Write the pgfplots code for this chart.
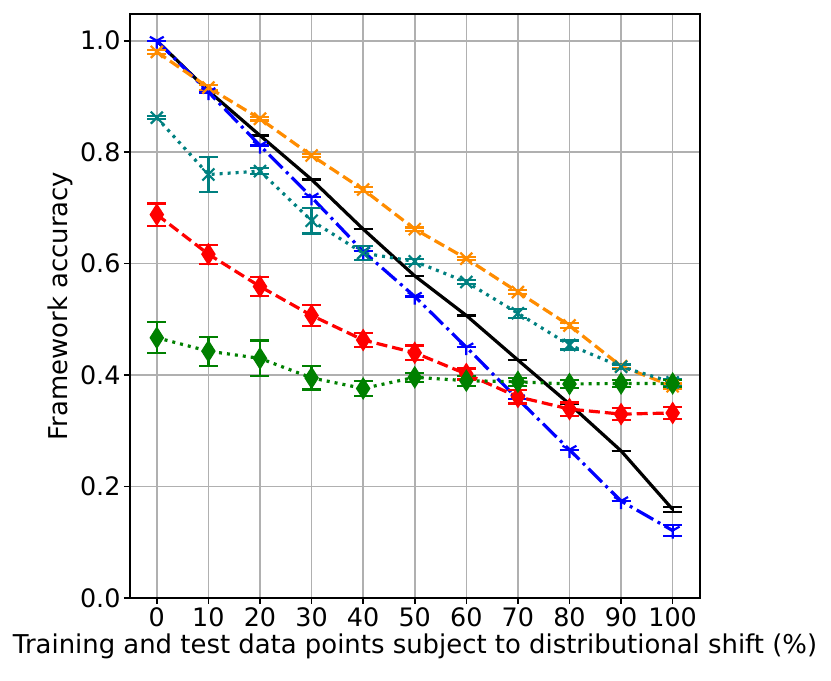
\documentclass[border=0pt]{standalone}
\usepackage{fontspec}
\setmainfont{DejaVu Sans}
\usepackage{pgfplots}
\pgfplotsset{compat=1.18}
\usetikzlibrary{plotmarks}
\definecolor{mplorange}{RGB}{255,140,0}
\definecolor{mplteal}{RGB}{0,128,128}
\definecolor{mplgreen}{RGB}{0,128,0}
\definecolor{gridgray}{RGB}{176,176,176}
\begin{document}
\begin{tikzpicture}
\begin{axis}[
  at={(0,0)}, anchor=south west,
  scale only axis, width=570bp, height=584bp,
  xmin=-5.2, xmax=105.3, ymin=0, ymax=1.048,
  xtick={0,10,...,100},
  ytick={0,0.2,0.4,0.6,0.8,1.0},
  y tick label style={/pgf/number format/fixed, /pgf/number format/fixed zerofill, /pgf/number format/precision=1},
  /pgf/number format/assume math mode=true,
  tick label style={font=\fontsize{25.5}{30}\selectfont},
  label style={font=\fontsize{26}{31}\selectfont},
  xlabel={Training and test data points subject to distributional shift (\%)},
  ylabel={Framework accuracy},
  grid=major,
  major grid style={gridgray, line width=1.6bp},
  axis line style={line width=1.6bp},
  tick style={black, line width=1.6bp},
  tick align=outside, tick pos=left,
  major tick length=6bp,
  every axis plot/.append style={line width=3.2bp},
  error bars/y dir=both, error bars/y explicit,
  error bars/error bar style={solid, line width=2.2bp},
  error bars/error mark options={solid, line width=2.2bp, mark size=9.5bp, rotate=90},
]
% black solid
\addplot[black, solid, mark=none] table[x=x, y=y, y error=e] {
x y e
0 1.000 0
10 0.910 0
20 0.830 0
30 0.751 0
40 0.662 0
50 0.578 0
60 0.507 0
70 0.427 0
80 0.348 0
90 0.264 0
100 0.159 0.004
};
% blue dash-dot
\addplot[blue, dash pattern=on 19bp off 5bp on 3bp off 5bp, mark=Mercedes star flipped, mark size=8bp, mark options={solid, line width=2.2bp}] table[x=x, y=y, y error=e] {
x y e
0 1.000 0
10 0.908 0.002
20 0.812 0
30 0.719 0
40 0.622 0
50 0.541 0
60 0.450 0
70 0.357 0
80 0.266 0
90 0.174 0
100 0.121 0.010
};
% orange dashed
\addplot[mplorange, dash pattern=on 11bp off 5bp, mark=x, mark size=8.5bp, mark options={solid, line width=2.2bp}] table[x=x, y=y, y error=e] {
x y e
0 0.980 0.004
10 0.916 0.004
20 0.860 0.003
30 0.794 0.003
40 0.733 0.004
50 0.662 0.003
60 0.609 0.003
70 0.549 0.004
80 0.489 0.004
90 0.416 0.003
100 0.380 0.005
};
% teal dotted
\addplot[mplteal, dash pattern=on 3bp off 5bp, mark=x, mark size=8.5bp, mark options={solid, line width=2.2bp}] table[x=x, y=y, y error=e] {
x y e
0 0.862 0.003
10 0.760 0.032
20 0.766 0.005
30 0.677 0.023
40 0.619 0.012
50 0.604 0.004
60 0.567 0.004
70 0.511 0.008
80 0.454 0.008
90 0.415 0.004
100 0.387 0.006
};
% red dashed
\addplot[red, dash pattern=on 11bp off 5bp, mark=diamond*, mark size=8.5bp, mark options={solid, xscale=0.85}] table[x=x, y=y, y error=e] {
x y e
0 0.688 0.020
10 0.617 0.017
20 0.559 0.017
30 0.507 0.019
40 0.463 0.013
50 0.440 0.013
60 0.402 0.010
70 0.361 0.012
80 0.339 0.012
90 0.330 0.011
100 0.332 0.011
};
% green dotted
\addplot[mplgreen, dash pattern=on 3bp off 5bp, mark=diamond*, mark size=8.5bp, mark options={solid, xscale=0.85}] table[x=x, y=y, y error=e] {
x y e
0 0.467 0.028
10 0.443 0.026
20 0.430 0.032
30 0.395 0.021
40 0.376 0.013
50 0.396 0.008
60 0.390 0.009
70 0.388 0.007
80 0.384 0.007
90 0.385 0.006
100 0.385 0.006
};
\end{axis}
\path[use as bounding box] (-130bp,-83bp) rectangle (701bp,598bp);
\end{tikzpicture}
\end{document}
